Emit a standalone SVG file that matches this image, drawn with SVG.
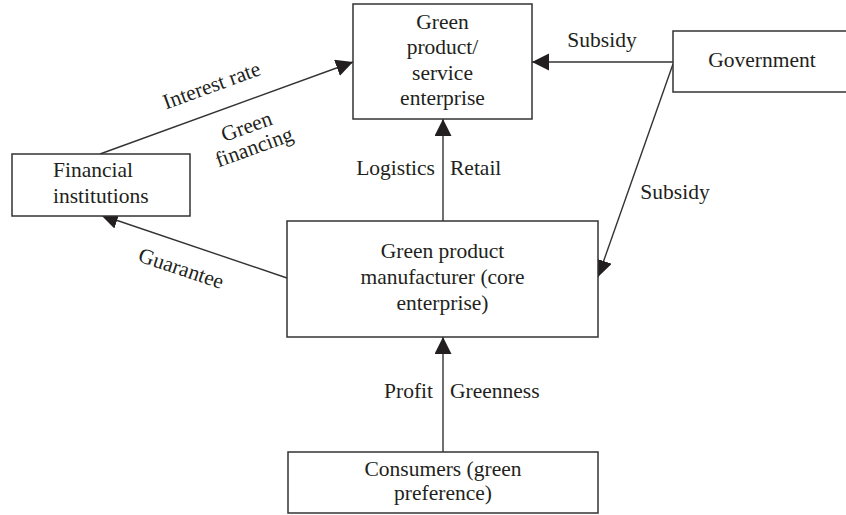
<svg xmlns="http://www.w3.org/2000/svg" width="846" height="515" viewBox="0 0 846 515">
<style>
.box{fill:#fff;stroke:#333;stroke-width:1.5}
.lbl{font-family:"Liberation Serif","Times New Roman",serif;font-size:21.5px;fill:#231f20}
.c{text-anchor:middle}
.conn{stroke:#333;stroke-width:1.4;fill:none}
</style>
<defs>
<marker id="arr" markerUnits="userSpaceOnUse" markerWidth="18" markerHeight="18" refX="17" refY="8.5" orient="auto">
<path d="M0,0 L17,8.5 L0,17 z" fill="#231f20"/>
</marker>
</defs>
<rect width="846" height="515" fill="#fff"/>
<g id="connectors">
<line class="conn" x1="100" y1="154" x2="353" y2="62" marker-end="url(#arr)"/>
<line class="conn" x1="673" y1="62" x2="532" y2="62" marker-end="url(#arr)"/>
<line class="conn" x1="673" y1="64" x2="598" y2="277" marker-end="url(#arr)"/>
<line class="conn" x1="443" y1="221" x2="443" y2="119" marker-end="url(#arr)"/>
<line class="conn" x1="287" y1="278" x2="101" y2="215" marker-end="url(#arr)"/>
<line class="conn" x1="443" y1="452" x2="443" y2="337" marker-end="url(#arr)"/>
<text class="lbl c" transform="translate(214,92) rotate(-20)">Interest rate</text>
<text class="lbl c" transform="translate(249,133) rotate(-20)"><tspan x="0" y="0">Green</tspan><tspan x="0" y="22">financing</tspan></text>
<text class="lbl c" x="602" y="47">Subsidy</text>
<text class="lbl c" x="675" y="199">Subsidy</text>
<text class="lbl" x="435" y="175" text-anchor="end">Logistics</text>
<text class="lbl" x="450" y="175">Retail</text>
<text class="lbl c" transform="translate(179,275) rotate(18.5)">Guarantee</text>
<text class="lbl" x="433" y="398" text-anchor="end">Profit</text>
<text class="lbl" x="450" y="398">Greenness</text>
</g>
<g id="service-enterprise">
<rect class="box" x="353" y="4" width="179" height="115"/>
<text class="lbl c" x="442.5" y="28.5">Green</text>
<text class="lbl c" x="442.5" y="54">product/</text>
<text class="lbl c" x="442.5" y="79.5">service</text>
<text class="lbl c" x="442.5" y="105">enterprise</text>
</g>
<g id="government">
<rect class="box" x="673" y="31" width="180" height="61"/>
<text class="lbl c" x="762" y="67">Government</text>
</g>
<g id="financial-institutions">
<rect class="box" x="12" y="154" width="178" height="62"/>
<text class="lbl" x="53" y="177">Financial</text>
<text class="lbl" x="53" y="203">institutions</text>
</g>
<g id="manufacturer">
<rect class="box" x="287" y="221" width="311" height="116"/>
<text class="lbl c" x="442.5" y="258">Green product</text>
<text class="lbl c" x="442.5" y="284">manufacturer (core</text>
<text class="lbl c" x="442.5" y="310">enterprise)</text>
</g>
<g id="consumers">
<rect class="box" x="288" y="452" width="310" height="61"/>
<text class="lbl c" x="443" y="476">Consumers (green</text>
<text class="lbl c" x="443" y="500">preference)</text>
</g>
</svg>
